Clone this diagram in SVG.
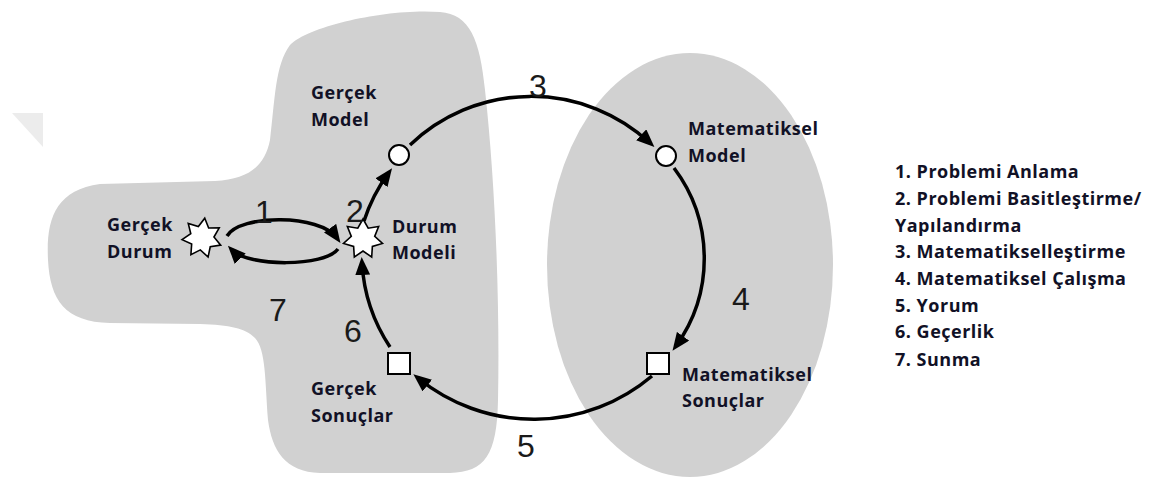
<svg xmlns="http://www.w3.org/2000/svg" width="1160" height="480" viewBox="0 0 1160 480">
  <style>
    .region { fill: #d1d1d1; stroke: none; }
    .lbl { font-family: "Open Sans", "Noto Sans", "DejaVu Sans", sans-serif; font-weight: 700; font-size: 18px; fill: #111126; letter-spacing: 0.5px; }
    .num { font-family: "Liberation Sans", Arial, sans-serif; font-size: 32px; fill: #1a1a1a; }
    .conn { fill: none; stroke: #000; stroke-width: 3.5; marker-end: url(#ah); }
    .node { fill: #fff; stroke: #000; stroke-width: 2; }
    .star { fill: #fff; stroke: #000; stroke-width: 1.6; stroke-linejoin: miter; }
  </style>
  <defs>
    <marker id="ah" markerWidth="18" markerHeight="15" refX="12" refY="7.5" orient="auto" markerUnits="userSpaceOnUse">
      <path d="M0,0 L18,7.5 L0,15 Z" fill="#000"/>
    </marker>
    <!-- seven-pointed star for situation nodes -->
    <path id="star7" d="M0,-20 L5.2,-10.8 L15.64,-12.47 L11.7,-2.67 L19.5,4.45 L9.38,7.48 L8.68,18.02 L0,12 L-8.68,18.02 L-9.38,7.48 L-19.5,4.45 L-11.7,-2.67 L-15.64,-12.47 L-5.2,-10.8 Z"/>
  </defs>

  <rect width="1160" height="480" fill="#fff"/>
  <polygon points="12,113 43,113 43,147" fill="#ececec"/>

  <!-- shaded areas: real world (left) and mathematical world (right) -->
  <g id="real-world">
    <path class="region" d="M290,45 C310,25 390,8 440,12 C470,14 480,40 485,90 C495,180 500,300 498,400 C497,455 485,472 450,473 L320,473 C285,472 272,450 268,420 C265,380 266,350 255,338 C245,328 230,325 200,324 L110,323 C65,322 50,300 48,260 C46,220 55,190 100,184 L215,181 C250,179 265,165 270,140 C275,100 275,65 290,45 Z"/>
  </g>
  <g id="math-world">
    <ellipse class="region" cx="690" cy="265" rx="143" ry="212"/>
  </g>

  <!-- cycle connectors -->
  <g id="connectors">
    <path id="c1" class="conn" d="M227,236 C240,214 320,214 337,238"/>
    <path id="c7" class="conn" d="M338,249 C325,267 248,267 232,250"/>
    <path id="c2" class="conn" d="M364,221 A170,170 0 0 1 388.5,173"/>
    <path id="c3" class="conn" d="M410,145 A175,175 0 0 1 650,143"/>
    <path id="c4" class="conn" d="M674,168 A150,150 0 0 1 676,346"/>
    <path id="c5" class="conn" d="M652,376 A183,183 0 0 1 418,378"/>
    <path id="c6" class="conn" d="M390,347 A170,170 0 0 1 362,263"/>
  </g>

  <g id="gercek-durum">
    <use href="#star7" class="star" transform="translate(202,238) rotate(8)"/>
    <text class="lbl" x="107" y="231">Gerçek</text>
    <text class="lbl" x="107" y="258">Durum</text>
  </g>

  <g id="durum-modeli">
    <use href="#star7" class="star" transform="translate(363,239)"/>
    <text class="lbl" x="392" y="233">Durum</text>
    <text class="lbl" x="392" y="259">Modeli</text>
  </g>

  <g id="gercek-model">
    <circle class="node" cx="399" cy="155" r="10"/>
    <text class="lbl" x="311" y="99">Gerçek</text>
    <text class="lbl" x="311" y="126">Model</text>
  </g>

  <g id="matematiksel-model">
    <circle class="node" cx="666" cy="156" r="10"/>
    <text class="lbl" x="688" y="135">Matematiksel</text>
    <text class="lbl" x="688" y="162">Model</text>
  </g>

  <g id="matematiksel-sonuclar">
    <rect class="node" x="647" y="353" width="22" height="21"/>
    <text class="lbl" x="682" y="381">Matematiksel</text>
    <text class="lbl" x="682" y="407">Sonuçlar</text>
  </g>

  <g id="gercek-sonuclar">
    <rect class="node" x="388" y="353" width="22" height="21"/>
    <text class="lbl" x="311" y="395">Gerçek</text>
    <text class="lbl" x="311" y="422">Sonuçlar</text>
  </g>

  <!-- step numbers -->
  <g id="step-numbers">
    <text class="num" x="255" y="223">1</text>
    <text class="num" x="346" y="222">2</text>
    <text class="num" x="529" y="97">3</text>
    <text class="num" x="732" y="310">4</text>
    <text class="num" x="517" y="457">5</text>
    <text class="num" x="344" y="342">6</text>
    <text class="num" x="269" y="321">7</text>
  </g>

  <!-- key -->
  <g id="legend">
    <text class="lbl" x="895" y="178">1. Problemi Anlama</text>
    <text class="lbl" x="895" y="205">2. Problemi Basitleştirme/</text>
    <text class="lbl" x="895" y="232">Yapılandırma</text>
    <text class="lbl" x="895" y="258">3. Matematikselleştirme</text>
    <text class="lbl" x="895" y="285">4. Matematiksel Çalışma</text>
    <text class="lbl" x="895" y="312">5. Yorum</text>
    <text class="lbl" x="895" y="338">6. Geçerlik</text>
    <text class="lbl" x="895" y="366">7. Sunma</text>
  </g>
</svg>
